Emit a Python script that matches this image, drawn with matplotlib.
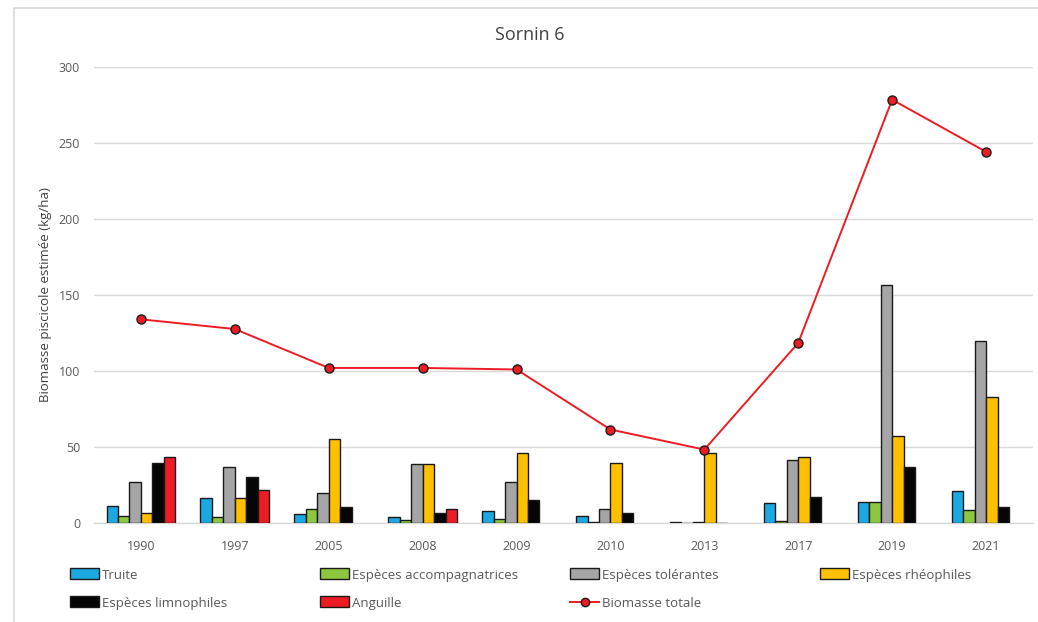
import numpy as np
import matplotlib
matplotlib.use("Agg")
import matplotlib.pyplot as plt
from matplotlib.patches import Patch
from matplotlib.lines import Line2D

plt.rcParams["font.family"] = ["Open Sans", "DejaVu Sans"]

# ── Données (kg/ha) ──────────────────────────────────────────────────────────
annees = ["1990", "1997", "2005", "2008", "2009", "2010", "2013", "2017", "2019", "2021"]

truite        = [11.2, 16.6, 5.7, 4.2, 8.1, 4.6, 0.4, 13.0, 13.6, 21.3]
accompagn     = [4.6, 3.7, 9.4, 2.0, 2.4, 0.7, 0.2, 1.1, 13.6, 8.6]
tolerantes    = [27.0, 36.6, 19.5, 39.0, 27.2, 9.0, 0.4, 41.2, 156.3, 119.7]
rheophiles    = [6.4, 16.2, 55.3, 39.0, 46.0, 39.5, 46.3, 43.6, 57.4, 83.0]
limnophiles   = [39.7, 30.3, 10.3, 6.8, 15.0, 6.8, 0.3, 17.3, 37.0, 10.3]
anguille      = [43.2, 21.7, np.nan, 9.2, np.nan, np.nan, np.nan, np.nan, np.nan, np.nan]
biomasse_tot  = [134, 127.6, 102, 102, 101, 61.5, 48.3, 118.5, 278.5, 244.2]

series = [
    ("Truite", truite, "#1CA8E0"),
    ("Espèces accompagnatrices", accompagn, "#8DC63F"),
    ("Espèces tolérantes", tolerantes, "#A5A5A5"),
    ("Espèces rhéophiles", rheophiles, "#FFC000"),
    ("Espèces limnophiles", limnophiles, "#050505"),
    ("Anguille", anguille, "#ED1C24"),
]

# ── Figure ───────────────────────────────────────────────────────────────────
fig = plt.figure(figsize=(10.38, 6.22), dpi=100)
ax = fig.add_axes([94 / 1038, 1 - 523 / 622, (1033 - 94) / 1038, (523 - 67) / 622])

x = np.arange(len(annees))
larg = 0.122
for i, (nom, vals, coul) in enumerate(series):
    ax.bar(x + (i - 2.5) * larg, vals, width=larg, color=coul,
           edgecolor="#1a1a1a", linewidth=1.0, zorder=3)

ax.plot(x, biomasse_tot, color="#ED1C24", linewidth=1.4, marker="o",
        markersize=6.5, markerfacecolor="#ED1C24", markeredgecolor="#1a1a1a",
        markeredgewidth=1.0, zorder=4)

ax.set_xlim(-0.5, len(annees) - 0.5)
ax.set_ylim(0, 300)
ax.set_yticks(range(0, 301, 50))
ax.set_xticks(x)
ax.set_xticklabels(annees)
ax.tick_params(axis="both", length=0, labelsize=9, colors="#595959")
ax.tick_params(axis="x", pad=12)
ax.tick_params(axis="y", pad=10)
ax.grid(axis="y", color="#D9D9D9", linewidth=1.0, zorder=0)
for s in ["top", "right", "left"]:
    ax.spines[s].set_visible(False)
ax.spines["bottom"].set_color("#D9D9D9")
ax.spines["bottom"].set_linewidth(1.0)

ax.set_ylabel("Biomasse piscicole estimée (kg/ha)", fontsize=9.5, color="#404040")
ax.yaxis.set_label_coords(-42 / 939, 0.5)
fig.text(530 / 1038, 1 - 35 / 622, "Sornin 6", ha="center", va="center",
         fontsize=13, color="#404040")

# ── Légende : 4 colonnes fixes, ordre par ligne ──────────────────────────────
handles = [Patch(facecolor=c, edgecolor="#1a1a1a", linewidth=1.0) for _, _, c in series]
handles.append(Line2D([], [], color="#ED1C24", linewidth=1.4, marker="o", markersize=6,
                      markerfacecolor="#ED1C24", markeredgecolor="#1a1a1a"))
labels = [n for n, _, _ in series] + ["Biomasse totale"]
col_x = [70, 320, 570, 820]
row_y = [575, 603]
for k, (h, lab) in enumerate(zip(handles, labels)):
    px, py = col_x[k % 4], row_y[k // 4]
    leg = fig.legend([h], [lab], loc="center left",
                     bbox_to_anchor=(px / 1038, 1 - py / 622), frameon=False,
                     fontsize=9.5, handlelength=2.2, handleheight=0.9,
                     handletextpad=0.2, borderpad=0, borderaxespad=0)
    for t in leg.get_texts():
        t.set_color("#595959")

# Cadre du graphique
fig.add_artist(Line2D([14 / 1038, 14 / 1038, 1.0], [0.0, 1 - 8 / 622, 1 - 8 / 622],
                      transform=fig.transFigure, color="#D9D9D9", linewidth=1.2))

fig.savefig("out.png", dpi=100)
